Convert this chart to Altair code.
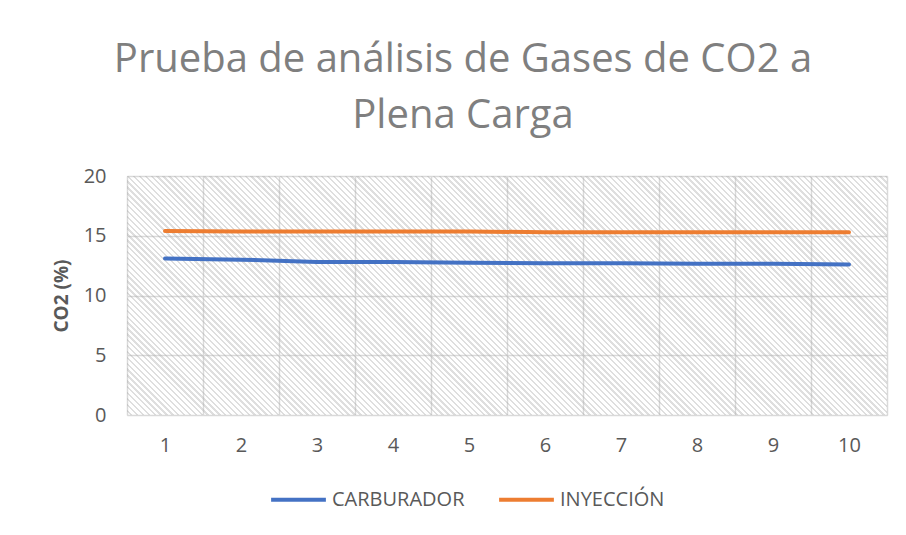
import altair as alt
import pandas as pd

# ---- data ----
pruebas = [1, 2, 3, 4, 5, 6, 7, 8, 9, 10]
carburador = [13.1, 13.0, 12.8, 12.8, 12.75, 12.7, 12.7, 12.65, 12.65, 12.6]
inyeccion = [15.4, 15.35, 15.35, 15.35, 15.35, 15.3, 15.3, 15.3, 15.3, 15.3]
series = ["CARBURADOR", "INYECCIÓN"]
colors = ["#4472C4", "#ED7D31"]

rows = []
for p, c, i in zip(pruebas, carburador, inyeccion):
    rows.append({"prueba": p, "serie": series[0], "co2": c})
    rows.append({"prueba": p, "serie": series[1], "co2": i})
df = pd.DataFrame(rows)

W, H = 760, 239

# diagonal hatch ("\") as a striped linear gradient for the plot background
N = 170
clear = "rgba(255,255,255,0)"
ink = "rgba(170,170,170,0.38)"
stops = []
for k in range(N):
    a = k / N
    b = (k + 0.6) / N
    c = (k + 1) / N
    stops += [
        {"offset": a, "color": clear},
        {"offset": b, "color": clear},
        {"offset": b, "color": ink},
        {"offset": c, "color": ink},
    ]
g = H / W
s = (1 + g) / (1 + g * g)
hatch = {
    "gradient": "linear",
    "x1": 0, "y1": 1,
    "x2": s, "y2": 1 - g * s,
    "stops": stops,
}

bg = alt.Chart(pd.DataFrame({"a": [0]})).mark_rect(fill=hatch, strokeWidth=0).encode(
    x=alt.value(0), x2=alt.value(W), y=alt.value(0), y2=alt.value(H)
)

lines = alt.Chart(df).mark_line(strokeWidth=4, strokeCap="round").encode(
    x=alt.X(
        "prueba:O",
        bandPosition=0.5,
        scale=alt.Scale(type="band", paddingInner=0, paddingOuter=0),
        axis=alt.Axis(
            title=None, labelAngle=0, tickBand="extent", grid=True,
            gridColor="#d9d9d9", gridWidth=1.5, domain=False, ticks=False,
            labelFontSize=20, labelColor="#595959", labelPadding=20,
            labelFont="Open Sans",
        ),
    ),
    y=alt.Y(
        "co2:Q",
        scale=alt.Scale(domain=[0, 20], nice=False),
        axis=alt.Axis(
            title="CO2 (%)", values=[0, 5, 10, 15, 20], grid=True,
            gridColor="#d9d9d9", gridWidth=1.5, domain=False, ticks=False,
            labelFontSize=20, labelColor="#595959", labelPadding=21,
            labelFont="Open Sans", titleFont="Open Sans", titleFontSize=19,
            titleFontWeight="bold", titleColor="#595959", titlePadding=12,
        ),
    ),
    color=alt.Color(
        "serie:N",
        scale=alt.Scale(domain=series, range=colors),
        legend=alt.Legend(
            title=None, orient="none", direction="horizontal",
            legendX=142, legendY=294, symbolType="stroke",
            symbolSize=3000, symbolStrokeWidth=4, labelFontSize=20,
            labelColor="#595959", labelFont="Open Sans", columnPadding=26,
            labelOffset=4, padding=0,
        ),
    ),
)

chart = alt.layer(bg, lines).properties(
    width=W,
    height=H,
    title=alt.TitleParams(
        text=["Prueba de análisis de Gases de CO2 a", "Plena Carga"],
        fontSize=40, font="Open Sans", fontWeight="normal", color="#7f7f7f",
        anchor="middle", dx=-44, lineHeight=56, offset=30,
    ),
    padding={"left": 119, "top": 168, "right": 11, "bottom": 118},
    autosize=alt.AutoSizeParams(type="none"),
).configure_view(
    stroke=None,
).configure(background="white")

chart.save("out.html", embed_options={"renderer": "svg", "actions": False})
